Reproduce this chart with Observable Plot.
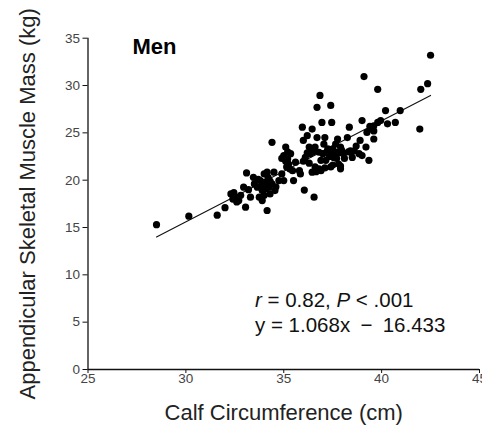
<!DOCTYPE html>
<html>
<head>
<meta charset="utf-8">
<script src="https://cdn.jsdelivr.net/npm/d3@7"></script>
<script src="https://cdn.jsdelivr.net/npm/@observablehq/plot@0.6"></script>
<style>
  html, body { margin: 0; padding: 0; background: #fff; }
  svg { font-family: "Liberation Sans", Arial, sans-serif; }
</style>
</head>
<body>
<div id="chart"></div>
<script>
// Calf circumference (cm)
const calf = [
  28.5, 30.15, 31.6, 32.0, 32.3, 32.45, 32.4, 32.6, 32.55, 32.7,
  33.05, 33.1, 32.95, 33.3, 33.45, 33.5, 33.65, 33.75, 33.8, 33.9,
  34.0, 34.05, 34.15, 34.15, 34.25, 34.3, 34.4, 34.4, 34.5, 34.55,
  33.9, 34.0, 34.75, 34.9, 35.0, 35.0, 35.1, 35.2, 35.15, 35.25,
  35.35, 35.45, 35.5, 35.6, 35.8, 35.85, 35.95, 36.0, 36.05, 36.1,
  36.2, 36.3, 36.35, 36.45, 36.45, 36.55, 36.6, 36.6, 36.7, 36.7,
  36.8, 36.85, 36.9, 36.9, 36.95, 37.0, 37.05, 37.1, 37.15, 37.25,
  37.3, 37.4, 37.4, 37.45, 37.5, 37.55, 37.65, 37.75, 37.75, 37.8,
  37.9, 37.9, 38.05, 38.25, 38.35, 38.4, 38.6, 38.85, 38.9, 39.0,
  39.0, 39.1, 39.2, 39.25, 39.35, 39.45, 39.6, 39.6, 39.8, 39.8,
  39.95, 40.2, 40.3, 40.7, 40.95, 41.95, 42.0, 42.35, 42.5,
  37.2, 37.35, 37.6, 37.7, 37.85, 37.95, 38.1, 37.5, 37.9, 37.1,
  36.8, 36.65, 35.1, 35.3, 34.9, 35.2, 33.9, 34.1, 34.3, 34.6,
  33.7, 34.2, 36.3, 36.0, 36.5, 36.2, 38.7, 38.3, 38.5, 39.6,
  39.4, 32.8, 33.2
];
// Appendicular skeletal muscle mass (kg)
const asmm = [
  15.3, 16.2, 16.3, 17.1, 18.55, 18.7, 18.0, 17.7, 18.2, 17.85,
  17.15, 20.77, 19.26, 18.2, 20.3, 19.6, 19.26, 18.2, 19.96, 18.9,
  20.66, 19.8, 20.85, 16.8, 19.26, 18.55, 24.0, 19.6, 20.85, 18.9,
  17.85, 18.4, 19.96, 20.66, 19.96, 22.6, 23.5, 22.25, 21.4, 21.7,
  22.8, 21.0, 19.96, 21.9, 21.0, 20.66, 25.6, 24.2, 18.96, 22.4,
  24.7, 23.5, 22.8, 25.4, 20.85, 18.2, 23.5, 21.4, 24.5, 27.7,
  22.95, 28.95, 22.1, 21.0, 26.1, 22.8, 23.8, 24.5, 22.1, 23.3,
  22.8, 27.9, 21.4, 26.1, 23.3, 22.4, 23.8, 24.35, 22.95, 21.7,
  21.2, 23.5, 22.8, 24.5, 25.6, 23.1, 23.1, 22.8, 24.2, 26.3,
  22.6, 30.95, 23.5, 25.05, 22.1, 25.4, 24.35, 25.75, 29.6, 26.1,
  26.3, 27.35, 25.95, 26.1, 27.35, 25.4, 29.6, 30.2, 33.2,
  23.0, 22.5, 23.0, 22.3, 22.9, 23.2, 22.3, 21.6, 21.5, 21.3,
  21.2, 20.9, 22.0, 21.2, 22.3, 23.0, 19.5, 19.1, 19.9, 19.3,
  20.1, 20.3, 21.8, 22.0, 23.0, 22.9, 23.6, 23.0, 22.4, 25.2,
  25.7, 18.4, 19.0
];

const xTicks = [25, 30, 35, 40, 45];
const yTicks = [0, 5, 10, 15, 20, 25, 30, 35];
const xLabel = "Calf Circumference (cm)";
const yLabel = "Appendicular Skeletal Muscle Mass (kg)";
const panelTitle = "Men";
const slope = 1.068;
const intercept = -16.433;
const rValue = "0.82";
const pValue = ".001";

const points = calf.map((c, i) => ({calf: c, asmm: asmm[i]}));
const lineX = [d3.min(calf), d3.max(calf)];
const fitLine = lineX.map(x => ({calf: x, asmm: slope * x + intercept}));

const mL = 87.5, mR = 3, mT = 37.7, mB = 66;

const plot = Plot.plot({
  width: 482,
  height: 435,
  marginLeft: mL,
  marginRight: mR,
  marginTop: mT,
  marginBottom: mB,
  style: {fontFamily: '"Liberation Sans", Arial, sans-serif', background: "#fff"},
  x: {domain: [25, 45]},
  y: {domain: [0, 35]},
  marks: [
    Plot.axisX({ticks: xTicks, tickSize: 4, tickPadding: 0, label: null, fontSize: 13.5, color: "#444", stroke: "#111"}),
    Plot.axisY({ticks: yTicks, tickSize: 5, tickPadding: 3, label: null, fontSize: 13.5, color: "#444", stroke: "#111"}),
    Plot.ruleY([0], {stroke: "#111", strokeWidth: 1.3}),
    Plot.ruleX([25], {stroke: "#111", strokeWidth: 1.3}),
    Plot.line(fitLine, {x: "calf", y: "asmm", stroke: "#111", strokeWidth: 1.1}),
    Plot.dot(points, {x: "calf", y: "asmm", r: 3.6, fill: "#000", stroke: "none"}),
    Plot.text([xLabel], {frameAnchor: "bottom", dy: 43, lineAnchor: "middle", textAnchor: "middle", fontSize: 22, fill: "#222"}),
    Plot.text([yLabel], {frameAnchor: "left", dx: -60.5, rotate: -90, lineAnchor: "middle", textAnchor: "middle", fontSize: 22, fill: "#222"}),
    Plot.text([panelTitle], {frameAnchor: "top-left", dx: 44.5, dy: 15.5, textAnchor: "start", lineAnchor: "bottom", fontSize: 22, fontWeight: "bold", fill: "#000"})
  ]
});

document.getElementById("chart").appendChild(plot);

// Statistics annotation with italic symbols
const svg = d3.select(plot);
const g = svg.append("g")
  .attr("font-family", '"Liberation Sans", Arial, sans-serif')
  .attr("font-size", 20.5)
  .attr("text-anchor", "start")
  .attr("fill", "#111");
const tx = mL + 167.5;
const t1 = g.append("text").attr("x", tx).attr("y", 307);
t1.append("tspan").attr("font-style", "italic").text("r");
t1.append("tspan").text(" = " + rValue + ", ");
t1.append("tspan").attr("font-style", "italic").text("P");
t1.append("tspan").text(" < " + pValue);
g.append("text").attr("x", tx).attr("y", 332)
  .text("y = " + slope.toFixed(3) + "x\u2002\u2212\u2002" + Math.abs(intercept).toFixed(3));
</script>
</body>
</html>
